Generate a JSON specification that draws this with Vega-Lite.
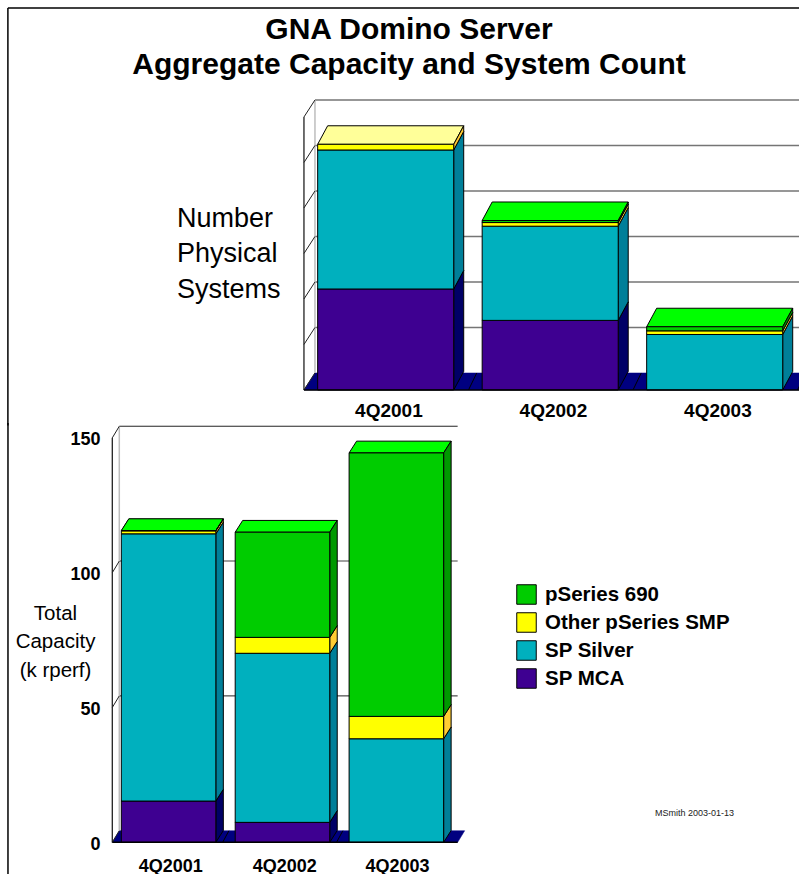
{
"$schema":"https://vega.github.io/schema/vega-lite/v6.json",
"padding":0,
"spacing":0,
"bounds":"flush",
"background":"white",
"config":{"view":{"stroke":null},"font":"Liberation Sans"},
"vconcat":[
{
 "width":799,"height":423,
 "title":{"text":["GNA Domino Server","Aggregate Capacity and System Count"],"anchor":"middle","frame":"group","fontSize":30,"fontWeight":"bold","font":"Liberation Sans","color":"black","lineHeight":35,"dx":9.5,"offset":-80},
 "data":{"values":[
  {"quarter":"4Q2001","series":"SP MCA","value":22.2},
  {"quarter":"4Q2001","series":"SP Silver","value":30.55},
  {"quarter":"4Q2001","series":"Other pSeries SMP","value":1.25},
  {"quarter":"4Q2002","series":"SP MCA","value":15.3},
  {"quarter":"4Q2002","series":"SP Silver","value":20.7},
  {"quarter":"4Q2002","series":"Other pSeries SMP","value":0.8},
  {"quarter":"4Q2002","series":"pSeries 690","value":0.45},
  {"quarter":"4Q2003","series":"SP Silver","value":12.2},
  {"quarter":"4Q2003","series":"Other pSeries SMP","value":0.8},
  {"quarter":"4Q2003","series":"pSeries 690","value":0.9}
 ]},
 "transform":[
  {"calculate":"indexof(['SP MCA','SP Silver','Other pSeries SMP','pSeries 690'],datum.series)","as":"rank"},
  {"stack":"value","groupby":["quarter"],"sort":[{"field":"rank","order":"ascending"}],"as":["y0","y1"]},
  {"calculate":"indexof(['4Q2001','4Q2002','4Q2003'],datum.quarter)","as":"xl"},
  {"calculate":"datum.xl+0.827","as":"xr"}
 ],
 "layer":[
  {"data":{"values":[{"tick":10},{"tick":20},{"tick":30},{"tick":40},{"tick":50},{"tick":60}]},
   "transform":[{"calculate":"datum.tick+3.74","as":"back"},{"calculate":"-0.0164","as":"xa"},{"calculate":"2.926","as":"xb"}],
   "mark":{"type":"rule","stroke":"#757575","strokeWidth":1.5},
   "encoding":{
    "x":{"field":"xa","type":"quantitative","scale":{"domain":[-1.931,2.926],"nice":false,"zero":false},
     "axis":{"orient":"bottom","values":[0.43,1.43,2.43],"labelExpr":"'4Q'+(2001+floor(datum.value))","domain":false,"ticks":false,"grid":false,"offset":-22,"labelPadding":0,"labelFontSize":19,"labelFontWeight":"bold","labelFont":"Liberation Sans","labelColor":"black","labelFlush":false,"labelOverlap":false,"labelBound":false,"title":null}},
    "x2":{"field":"xb"},
    "y":{"field":"back","type":"quantitative","scale":{"domain":[-7.253,85.714],"nice":false,"zero":false},
     "axis":{"orient":"left","labels":false,"domain":false,"ticks":false,"grid":false,"title":["Number","Physical","Systems"],"titleAngle":0,"titleAlign":"left","titleX":176.5,"titleY":218,"titleBaseline":"middle","titleFontSize":27,"titleFontWeight":"normal","titleFont":"Liberation Sans","titleColor":"black","titleLineHeight":35.5}}
   }},
  {"data":{"values":[{"tick":0}]},
   "transform":[{"calculate":"[0,1]","as":"edge"},{"flatten":["edge"]},
    {"calculate":"-0.0833+datum.edge*0.0669","as":"xa"},{"calculate":"2.926+datum.edge*0.0669","as":"xb"},{"calculate":"datum.tick+datum.edge*3.74","as":"yy"}],
   "mark":{"type":"area","orient":"horizontal","fill":"#000080","stroke":"#000080","strokeWidth":0.5},
   "encoding":{"y":{"field":"yy","type":"quantitative","axis":null},"x":{"field":"xa","type":"quantitative","axis":null},"x2":{"field":"xb"}}},
  {"data":{"values":[{"tick":60}]},
   "transform":[{"calculate":"datum.tick+3.74","as":"back"},{"calculate":"-0.0164","as":"xa"},{"calculate":"3.74","as":"floorY"}],
   "mark":{"type":"rule","stroke":"#bdbdbd","strokeWidth":1.5},
   "encoding":{"x":{"field":"xa","type":"quantitative","axis":null},"y":{"field":"floorY","type":"quantitative","axis":null},"y2":{"field":"back"}}},
  {"data":{"values":[{"tick":60}]},
   "transform":[{"calculate":"-0.0833","as":"xa"},{"calculate":"0","as":"base"}],
   "mark":{"type":"rule","stroke":"#222222","strokeWidth":1.3},
   "encoding":{"x":{"field":"xa","type":"quantitative","axis":null},"y":{"field":"base","type":"quantitative","axis":null},"y2":{"field":"tick"}}},
  {"data":{"values":[{"tick":0},{"tick":10},{"tick":20},{"tick":30},{"tick":40},{"tick":50},{"tick":60}]},
   "transform":[{"calculate":"datum.tick+3.74","as":"back"},{"calculate":"-0.0833","as":"xa"},{"calculate":"-0.0164","as":"xb"}],
   "mark":{"type":"rule","stroke":"#222222","strokeWidth":1},
   "encoding":{"x":{"field":"xa","type":"quantitative","axis":null},"x2":{"field":"xb"},"y":{"field":"tick","type":"quantitative","axis":null},"y2":{"field":"back"}}},
  {"data":{"values":[{"slot":0},{"slot":1},{"slot":2}]},
   "transform":[{"calculate":"datum.slot+0.917","as":"xa"},{"calculate":"datum.xa+0.05","as":"xb"},{"calculate":"0","as":"ya"},{"calculate":"3.74","as":"yb"}],
   "mark":{"type":"rule","stroke":"black","strokeWidth":1},
   "encoding":{"x":{"field":"xa","type":"quantitative","axis":null},"x2":{"field":"xb"},"y":{"field":"ya","type":"quantitative","axis":null},"y2":{"field":"yb"}}},
  {"transform":[{"calculate":"[0,1]","as":"edge"},{"flatten":["edge"]},
    {"calculate":"datum.xl+datum.edge*0.0608","as":"ta"},{"calculate":"datum.xr+datum.edge*0.0608","as":"tb"},{"calculate":"datum.y1+datum.edge*4.07","as":"ty"}],
   "mark":{"type":"area","orient":"horizontal","stroke":"black","strokeWidth":1},
   "encoding":{
    "y":{"field":"ty","type":"quantitative","axis":null},
    "x":{"field":"ta","type":"quantitative","axis":null},
    "x2":{"field":"tb"},
    "detail":{"field":"quarter"},
    "fill":{"field":"series","type":"nominal","legend":null,"scale":{"domain":["pSeries 690","Other pSeries SMP","SP Silver","SP MCA"],"range":["#00FF00","#FFFF99","#00FFFF","#6600CC"]}}
   }},
  {"transform":[{"calculate":"[0,1]","as":"edge"},{"flatten":["edge"]},
    {"calculate":"datum.xr+datum.edge*0.0608","as":"sx"},{"calculate":"datum.y0+datum.edge*4.07","as":"sa"},{"calculate":"datum.y1+datum.edge*4.07","as":"sb"}],
   "mark":{"type":"area","orient":"vertical","stroke":"black","strokeWidth":1},
   "encoding":{
    "x":{"field":"sx","type":"quantitative","axis":null},
    "y":{"field":"sa","type":"quantitative","axis":null},
    "y2":{"field":"sb"},
    "detail":{"field":"quarter"},
    "fill":{"field":"series","type":"nominal","legend":null,"scale":{"domain":["pSeries 690","Other pSeries SMP","SP Silver","SP MCA"],"range":["#009900","#FFCC33","#007F99","#000066"]}}
   }},
  {"mark":{"type":"rect","stroke":"black","strokeWidth":1},
   "encoding":{
    "x":{"field":"xl","type":"quantitative","axis":null},
    "x2":{"field":"xr"},
    "y":{"field":"y0","type":"quantitative","axis":null},
    "y2":{"field":"y1"},
    "fill":{"field":"series","type":"nominal","legend":null,"scale":{"domain":["pSeries 690","Other pSeries SMP","SP Silver","SP MCA"],"range":["#00CC00","#FFFF00","#00B0BE","#3E0091"]}}
   }},
  {"data":{"values":[{"tick":0}]},
   "transform":[{"calculate":"-0.0833","as":"xa"},{"calculate":"2.926","as":"xb"}],
   "mark":{"type":"rule","stroke":"black","strokeWidth":1.5},
   "encoding":{"x":{"field":"xa","type":"quantitative","axis":null},"x2":{"field":"xb"},"y":{"field":"tick","type":"quantitative","axis":null}}},
  {"data":{"values":[{"tick":60}]},
   "transform":[{"calculate":"-1.883","as":"xa"},{"calculate":"83.96","as":"ya"},{"calculate":"-7.8","as":"yb"}],
   "mark":{"type":"rule","stroke":"black","strokeWidth":1.5},
   "encoding":{"x":{"field":"xa","type":"quantitative","axis":null},"y":{"field":"ya","type":"quantitative","axis":null},"y2":{"field":"yb"}}},
  {"data":{"values":[{"tick":60}]},
   "transform":[{"calculate":"-1.883","as":"xa"},{"calculate":"2.926","as":"xb"},{"calculate":"83.96","as":"ya"}],
   "mark":{"type":"rule","stroke":"black","strokeWidth":1.5},
   "encoding":{"x":{"field":"xa","type":"quantitative","axis":null},"x2":{"field":"xb"},"y":{"field":"ya","type":"quantitative","axis":null}}}
 ],
 "resolve":{"scale":{"fill":"independent"},"axis":{"x":"independent","y":"independent"}}
},
{
 "width":799,"height":451,
 "data":{"values":[
  {"quarter":"4Q2001","series":"SP MCA","value":15.3},
  {"quarter":"4Q2001","series":"SP Silver","value":99.1},
  {"quarter":"4Q2001","series":"Other pSeries SMP","value":1.1},
  {"quarter":"4Q2001","series":"pSeries 690","value":0.1},
  {"quarter":"4Q2002","series":"SP MCA","value":7.4},
  {"quarter":"4Q2002","series":"SP Silver","value":62.7},
  {"quarter":"4Q2002","series":"Other pSeries SMP","value":5.9},
  {"quarter":"4Q2002","series":"pSeries 690","value":39},
  {"quarter":"4Q2003","series":"SP Silver","value":38.4},
  {"quarter":"4Q2003","series":"Other pSeries SMP","value":8.3},
  {"quarter":"4Q2003","series":"pSeries 690","value":97.7}
 ]},
 "transform":[
  {"calculate":"indexof(['SP MCA','SP Silver','Other pSeries SMP','pSeries 690'],datum.series)","as":"rank"},
  {"stack":"value","groupby":["quarter"],"sort":[{"field":"rank","order":"ascending"}],"as":["y0","y1"]},
  {"calculate":"indexof(['4Q2001','4Q2002','4Q2003'],datum.quarter)","as":"xl"},
  {"calculate":"datum.xl+0.83","as":"xr"}
 ],
 "layer":[
  {"data":{"values":[{"tick":50},{"tick":100},{"tick":150}]},
   "transform":[{"calculate":"datum.tick+4.3","as":"back"},{"calculate":"-0.0176","as":"xa"},{"calculate":"2.953","as":"xb"}],
   "mark":{"type":"rule"},
   "encoding":{
    "x":{"field":"xa","type":"quantitative","scale":{"domain":[-1.065,5.95],"nice":false,"zero":false},
     "axis":{"orient":"bottom","values":[0.43,1.43,2.42],"labelExpr":"'4Q'+(2001+floor(datum.value))","domain":false,"ticks":false,"grid":false,"offset":-17,"labelPadding":0,"labelFontSize":18,"labelFontWeight":"bold","labelFont":"Liberation Sans","labelColor":"black","labelFlush":false,"labelOverlap":false,"labelBound":false,"title":null}},
    "x2":{"field":"xb"},
    "y":{"field":"back","type":"quantitative","scale":{"domain":[-11.75,155.5],"nice":false,"zero":false},
     "axis":{"orient":"left","values":[0,50,100,150],"domain":false,"ticks":false,"grid":false,"offset":-100,"labelPadding":0,"labelOffset":2,"labelFontSize":18,"labelFontWeight":"bold","labelFont":"Liberation Sans","labelColor":"black","labelOverlap":false,"labelBound":false,"labelFlush":false,"title":["Total","Capacity","(k rperf)"],"titleAngle":0,"titleAlign":"center","titleX":-45,"titleY":190,"titleBaseline":"middle","titleFontSize":20.5,"titleFontWeight":"normal","titleFont":"Liberation Sans","titleColor":"black","titleLineHeight":28.5}},
    "stroke":{"condition":{"test":"datum.tick==100","value":"#808080"},"value":"#222222"},
    "strokeWidth":{"condition":{"test":"datum.tick==100","value":1.5},"value":1}
   }},
  {"data":{"values":[{"tick":0}]},
   "transform":[{"calculate":"[0,1]","as":"edge"},{"flatten":["edge"]},
    {"calculate":"-0.079+datum.edge*0.0615","as":"xa"},{"calculate":"2.953+datum.edge*0.0615","as":"xb"},{"calculate":"datum.tick+datum.edge*4.3","as":"yy"}],
   "mark":{"type":"area","orient":"horizontal","fill":"#000080","stroke":"#000080","strokeWidth":0.5},
   "encoding":{"y":{"field":"yy","type":"quantitative","axis":null},"x":{"field":"xa","type":"quantitative","axis":null},"x2":{"field":"xb"}}},
  {"data":{"values":[{"tick":150}]},
   "transform":[{"calculate":"datum.tick+4.3","as":"back"},{"calculate":"-0.0176","as":"xa"},{"calculate":"4.3","as":"floorY"}],
   "mark":{"type":"rule","stroke":"#bdbdbd","strokeWidth":1.5},
   "encoding":{"x":{"field":"xa","type":"quantitative","axis":null},"y":{"field":"floorY","type":"quantitative","axis":null},"y2":{"field":"back"}}},
  {"data":{"values":[{"tick":150}]},
   "transform":[{"calculate":"-0.079","as":"xa"},{"calculate":"0","as":"base"}],
   "mark":{"type":"rule","stroke":"#222222","strokeWidth":1.3},
   "encoding":{"x":{"field":"xa","type":"quantitative","axis":null},"y":{"field":"base","type":"quantitative","axis":null},"y2":{"field":"tick"}}},
  {"data":{"values":[{"tick":0},{"tick":50},{"tick":100},{"tick":150}]},
   "transform":[{"calculate":"datum.tick+4.3","as":"back"},{"calculate":"-0.079","as":"xa"},{"calculate":"-0.0176","as":"xb"}],
   "mark":{"type":"rule","stroke":"#222222","strokeWidth":1},
   "encoding":{"x":{"field":"xa","type":"quantitative","axis":null},"x2":{"field":"xb"},"y":{"field":"tick","type":"quantitative","axis":null},"y2":{"field":"back"}}},
  {"data":{"values":[{"slot":0},{"slot":1}]},
   "transform":[{"calculate":"datum.slot+0.89","as":"xa"},{"calculate":"datum.xa+0.055","as":"xb"},{"calculate":"0","as":"ya"},{"calculate":"4.3","as":"yb"}],
   "mark":{"type":"rule","stroke":"black","strokeWidth":1},
   "encoding":{"x":{"field":"xa","type":"quantitative","axis":null},"x2":{"field":"xb"},"y":{"field":"ya","type":"quantitative","axis":null},"y2":{"field":"yb"}}},
  {"transform":[{"calculate":"[0,1]","as":"edge"},{"flatten":["edge"]},
    {"calculate":"datum.xl+datum.edge*0.0658","as":"ta"},{"calculate":"datum.xr+datum.edge*0.0658","as":"tb"},{"calculate":"datum.y1+datum.edge*4.37","as":"ty"}],
   "mark":{"type":"area","orient":"horizontal","stroke":"black","strokeWidth":1},
   "encoding":{
    "y":{"field":"ty","type":"quantitative","axis":null},
    "x":{"field":"ta","type":"quantitative","axis":null},
    "x2":{"field":"tb"},
    "detail":{"field":"quarter"},
    "fill":{"field":"series","type":"nominal","legend":null,"scale":{"domain":["pSeries 690","Other pSeries SMP","SP Silver","SP MCA"],"range":["#00FF00","#FFFF99","#00FFFF","#6600CC"]}}
   }},
  {"transform":[{"calculate":"[0,1]","as":"edge"},{"flatten":["edge"]},
    {"calculate":"datum.xr+datum.edge*0.0658","as":"sx"},{"calculate":"datum.y0+datum.edge*4.37","as":"sa"},{"calculate":"datum.y1+datum.edge*4.37","as":"sb"}],
   "mark":{"type":"area","orient":"vertical","stroke":"black","strokeWidth":1},
   "encoding":{
    "x":{"field":"sx","type":"quantitative","axis":null},
    "y":{"field":"sa","type":"quantitative","axis":null},
    "y2":{"field":"sb"},
    "detail":{"field":"quarter"},
    "fill":{"field":"series","type":"nominal","legend":null,"scale":{"domain":["pSeries 690","Other pSeries SMP","SP Silver","SP MCA"],"range":["#009900","#FFCC33","#007F99","#000066"]}}
   }},
  {"mark":{"type":"rect","stroke":"black","strokeWidth":1},
   "encoding":{
    "x":{"field":"xl","type":"quantitative","axis":null},
    "x2":{"field":"xr"},
    "y":{"field":"y0","type":"quantitative","axis":null},
    "y2":{"field":"y1"},
    "fill":{"field":"series","type":"nominal","scale":{"domain":["pSeries 690","Other pSeries SMP","SP Silver","SP MCA"],"range":["#00CC00","#FFFF00","#00B0BE","#3E0091"]},
     "legend":{"orient":"none","legendX":516,"legendY":161,"title":null,"symbolType":"square","symbolSize":380,"symbolStrokeColor":"black","symbolStrokeWidth":1,"rowPadding":3,"labelFontSize":20.5,"labelFontWeight":"bold","labelFont":"Liberation Sans","labelColor":"black","labelOffset":8,"labelLimit":300,"padding":0}}
   }},
  {"data":{"values":[{"tick":0}]},
   "transform":[{"calculate":"-0.079","as":"xa"},{"calculate":"2.953","as":"xb"}],
   "mark":{"type":"rule","stroke":"black","strokeWidth":1.5},
   "encoding":{"x":{"field":"xa","type":"quantitative","axis":null},"x2":{"field":"xb"},"y":{"field":"tick","type":"quantitative","axis":null}}},
  {"data":{"values":[{"tick":150}]},
   "transform":[{"calculate":"-0.995","as":"xa"},{"calculate":"155.5","as":"ya"},{"calculate":"-11.75","as":"yb"}],
   "mark":{"type":"rule","stroke":"black","strokeWidth":1.5},
   "encoding":{"x":{"field":"xa","type":"quantitative","axis":null},"y":{"field":"ya","type":"quantitative","axis":null},"y2":{"field":"yb"}}},
  {"data":{"values":[{"note":"MSmith 2003-01-13"}]},
   "transform":[{"calculate":"4.686","as":"xa"},{"calculate":"10.9","as":"ya"}],
   "mark":{"type":"text","align":"left","baseline":"middle","fontSize":9,"font":"Liberation Sans","color":"#222222"},
   "encoding":{"x":{"field":"xa","type":"quantitative","axis":null},"y":{"field":"ya","type":"quantitative","axis":null},"text":{"field":"note"}}}
 ],
 "resolve":{"scale":{"fill":"independent"},"axis":{"x":"independent","y":"independent"}}
}
]
}
